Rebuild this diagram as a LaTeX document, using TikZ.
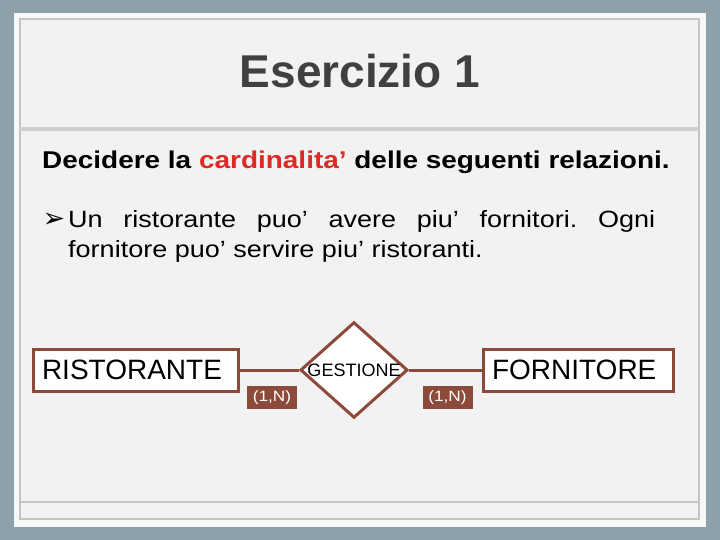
\documentclass[tikz,border=0pt]{standalone}
\usepackage{fontspec}
\setmainfont{Liberation Sans}
\newfontfamily\widefont[FakeStretch=1.15]{Liberation Sans}
\newfontfamily\arrowfont{DejaVu Sans}
\usetikzlibrary{shapes.geometric}
\frenchspacing
\definecolor{slate}{HTML}{8EA1AB}
\definecolor{sheet}{HTML}{F8F8F8}
\definecolor{paper}{HTML}{F2F2F2}
\definecolor{rule}{HTML}{C6C6C0}
\definecolor{band}{HTML}{CDCFCF}
\definecolor{ink}{HTML}{404040}
\definecolor{accent}{HTML}{DC2A24}
\definecolor{brown}{HTML}{8C4B3A}
\tikzset{
  title/.style={text=ink, inner sep=0pt, font=\bfseries\fontsize{46}{50}\selectfont},
  lead/.style={text=black, inner sep=0pt, font=\widefont\bfseries\fontsize{24.3}{29}\selectfont},
  body/.style={text=black, inner sep=0pt, align=justify, font=\widefont\fontsize{23.5}{29}\selectfont},
  entity/.style={draw=brown, line width=3pt, fill=white, inner xsep=9pt, inner ysep=0pt,
    minimum height=42pt, align=left, font=\fontsize{28}{30}\selectfont},
  relation/.style={diamond, aspect=1.12, draw=brown, line width=3pt, fill=white, inner sep=0pt,
    minimum width=104pt, minimum height=94pt, font=\fontsize{18}{20}\selectfont},
  link/.style={draw=brown, line width=3pt},
  cardlabel/.style={fill=brown, text=white, inner sep=0pt, minimum width=50pt, minimum height=23pt,
    font=\widefont\fontsize{15}{17}\selectfont},
}
\begin{document}
\begin{tikzpicture}[x=1pt,y=-1pt]
  \useasboundingbox (0,0) rectangle (720,540);
  % slide frame
  \fill[slate] (0,0) rectangle (720,540);
  \fill[sheet] (14,13) rectangle (706,527);
  \filldraw[fill=paper, draw=rule, line width=1.5pt] (20,19) rectangle (699,519);
  \fill[band] (20,127) rectangle (699,131);
  \draw[rule, line width=1.5pt] (20,502) -- (699,502);
  % texts
  \node[title, anchor=base] (title) at (360,88) {Esercizio 1};
  \node[lead, anchor=base west] (lead) at (42,169)
    {Decidere la \textcolor{accent}{cardinalita’} delle seguenti relazioni.};
  \node[body, anchor=base west, text width=587pt] (item) at (68,228)
    {\noindent\llap{{\arrowfont\fontsize{27}{27}\selectfont ➢}\hspace{3pt}}Un ristorante puo’ avere piu’ fornitori. Ogni\linebreak
     fornitore puo’ servire piu’ ristoranti.};
  % E-R diagram
  \node[entity, text width=187pt] (ristorante) at (135.5,370) {RISTORANTE};
  \node[relation] (gestione) at (354,370) {GESTIONE};
  \node[entity, text width=172pt] (fornitore) at (578,370) {FORNITORE};
  \draw[link] (ristorante.east) -- (gestione.west);
  \draw[link] (gestione.east) -- (fornitore.west);
  \node[cardlabel] (cardR) at (272,397.5) {(1,N)};
  \node[cardlabel] (cardF) at (447.5,397.5) {(1,N)};
\end{tikzpicture}
\end{document}
